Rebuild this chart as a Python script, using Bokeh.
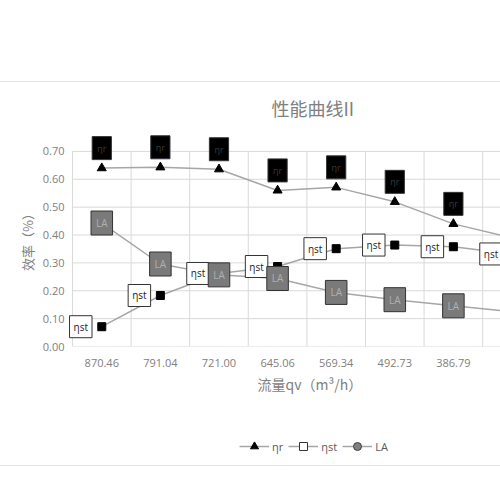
from bokeh.plotting import figure
from bokeh.models import (Range1d, FixedTicker, NumeralTickFormatter, Legend, LegendItem,
                          ColumnDataSource, Spacer, Title)
from bokeh.layouts import column
from bokeh.embed import file_html
from bokeh.resources import INLINE
from bokeh.core.properties import value

# flow rate categories (m3/h); the last one is cut off at the right edge
flow = ["870.46", "791.04", "721.00", "645.06", "569.34", "492.73", "386.79", "306.52"]
eta_r = [0.640, 0.643, 0.636, 0.560, 0.571, 0.519, 0.440, 0.390]
eta_st = [0.071, 0.183, 0.262, 0.287, 0.351, 0.364, 0.358, 0.332]
la = [0.443, 0.296, 0.257, 0.244, 0.194, 0.168, 0.146, 0.125]
y_ticks = [0.0, 0.1, 0.2, 0.3, 0.4, 0.5, 0.6, 0.7]

x = list(range(len(flow)))
src = ColumnDataSource(dict(x=x, r=eta_r, st=eta_st, la=la))

GRAY = "#808080"
LINE = "#a6a6a6"
CJK = "Noto Sans CJK SC"

p = figure(width=500, height=337, output_backend="svg", toolbar_location=None,
           x_range=Range1d(-0.602, 6.804), y_range=Range1d(0, 0.7714),
           min_border_left=66, min_border_right=0, min_border_top=48, min_border_bottom=73)
p.outline_line_color = None
p.grid.visible = False

p.title.text = "性能曲线II"
p.title.align = "left"
p.title.offset = 205
p.title.standoff = 21
p.title.text_font = CJK
p.title.text_font_size = "18px"
p.title.text_font_style = "normal"
p.title.text_color = GRAY

# grid lines of the plot area
grid_x = [i - 0.5 for i in range(len(flow))]
p.segment(x0=grid_x, y0=[0] * len(grid_x), x1=grid_x, y1=[0.7] * len(grid_x),
          line_color="#d9d9d9", line_width=1)
p.segment(x0=[-0.5] * len(y_ticks), y0=y_ticks, x1=[8] * len(y_ticks), y1=y_ticks,
          line_color="#d9d9d9", line_width=1)

p.line("x", "r", source=src, line_color=LINE, line_width=1.5)
p.line("x", "st", source=src, line_color=LINE, line_width=1.5)
p.line("x", "la", source=src, line_color=LINE, line_width=1.5)

p.scatter("x", "r", source=src, marker="triangle", size=9, color="black")
p.scatter("x", "st", source=src, marker="square", size=8, color="black")
p.scatter("x", "la", source=src, marker="circle", size=8, fill_color="#7f7f7f", line_color="#404040")

# data labels
p.text("x", "r", source=src, text=value("ηr"), y_offset=-20, text_align="center",
       text_baseline="middle", text_font=value("Open Sans"), text_font_size="9px",
       text_color="#3c3c3c", background_fill_color="black", border_line_color="#333333",
       padding=5)
p.text("x", "st", source=src, text=value("ηst"), x_offset=-21, text_align="center",
       text_baseline="middle", text_font=value("Open Sans"), text_font_size="10px",
       text_color="#222222", background_fill_color="white", border_line_color="#333333",
       padding=4)
p.text("x", "la", source=src, text=value("LA"), text_align="center",
       text_baseline="middle", text_font=value("Open Sans"), text_font_size="10px",
       text_color="#b0b0b0", background_fill_color="#7a7a7a", border_line_color="#333333",
       padding=5)

p.yaxis.ticker = FixedTicker(ticks=y_ticks)
p.yaxis.formatter = NumeralTickFormatter(format="0.00")
p.yaxis.axis_label = "效率（%）"
p.yaxis.major_label_standoff = 2
p.yaxis.axis_label_standoff = 3

p.xaxis.ticker = FixedTicker(ticks=x)
p.xaxis.major_label_overrides = {i: f for i, f in enumerate(flow)}
p.xaxis.major_label_standoff = 12

for ax in (p.xaxis[0], p.yaxis[0]):
    ax.axis_line_color = None
    ax.major_tick_line_color = None
    ax.major_tick_out = 0
    ax.minor_tick_line_color = None
    ax.major_label_text_font = "Open Sans"
    ax.major_label_text_font_size = "11px"
    ax.major_label_text_color = GRAY
    ax.axis_label_text_font = CJK
    ax.axis_label_text_font_size = "13px"
    ax.axis_label_text_font_style = "normal"
    ax.axis_label_text_color = GRAY

# x axis title, placed under the tick labels
p.add_layout(Title(text="流量qv（m³/h）", align="left", offset=191, standoff=4,
                   text_font=CJK, text_font_size="14px", text_font_style="normal",
                   text_color=GRAY), "below")

# legend strip under the chart; its glyphs use the same data, kept out of view
lg = figure(width=500, height=46, output_backend="svg", toolbar_location=None,
            x_range=Range1d(100, 101), y_range=Range1d(100, 101),
            x_axis_location=None, y_axis_location=None,
            min_border_left=0, min_border_right=0, min_border_top=0, min_border_bottom=0)
lg.grid.visible = False
lg.outline_line_color = None
l_line = lg.line("x", "r", source=src, line_color=LINE, line_width=1.5)
l_r = lg.scatter("x", "r", source=src, marker="triangle", size=8, color="black")
l_st = lg.scatter("x", "st", source=src, marker="square", size=8, fill_color="white", line_color="#333333")
l_la = lg.scatter("x", "la", source=src, marker="circle", size=8, fill_color="#7f7f7f", line_color="#404040")

legend = Legend(items=[LegendItem(label="ηr", renderers=[l_line, l_r]),
                       LegendItem(label="ηst", renderers=[l_line, l_st]),
                       LegendItem(label="LA", renderers=[l_line, l_la])],
                orientation="horizontal", location=(173, 9))
legend.border_line_color = None
legend.background_fill_alpha = 0
legend.padding = 0
legend.margin = 0
legend.spacing = 5
legend.glyph_width = 30
legend.label_width = 0
legend.label_standoff = 3
legend.label_text_font = "Open Sans"
legend.label_text_font_size = "11px"
legend.label_text_color = "#595959"
lg.add_layout(legend, "center")

page = column(Spacer(width=500, height=82, styles={"border-bottom": "1px solid #e3e3e3"}),
              p, lg,
              Spacer(width=500, height=2, styles={"border-top": "1px solid #e3e3e3"}))

open("out.html", "w").write(file_html(page, INLINE))
